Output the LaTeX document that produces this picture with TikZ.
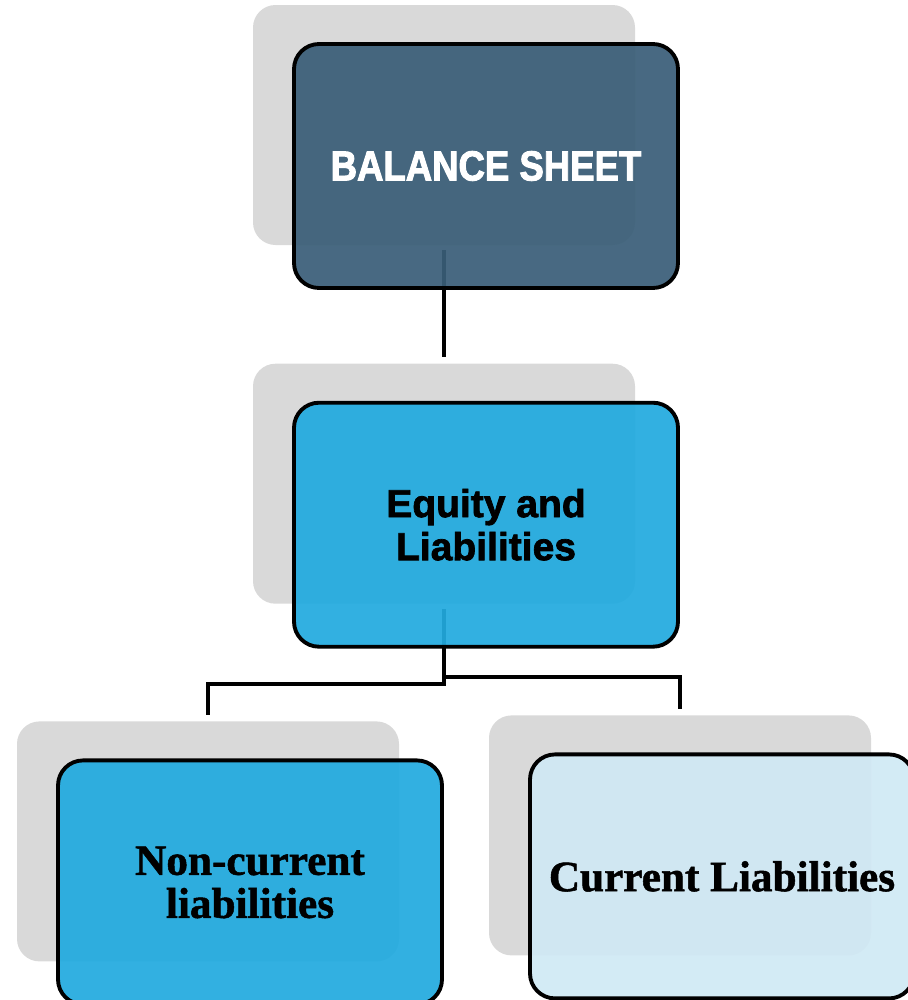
\documentclass[tikz,border=0pt]{standalone}
\usepackage{fontspec}
\setmainfont{Liberation Serif}[FakeBold=1.2]
\newfontfamily\headfont[FakeStretch=0.87, FakeBold=2.2]{Liberation Sans}
\newfontfamily\labelfont[FakeBold=1.8]{Liberation Sans}
\usetikzlibrary{positioning}
\definecolor{sheetblue}{HTML}{3A5E78}
\definecolor{equityblue}{HTML}{22AADF}
\definecolor{paleblue}{HTML}{D0E9F4}
\definecolor{plategray}{HTML}{D9D9D9}

\begin{document}
\begin{tikzpicture}[
    % Grey plate sitting behind each card
    backplate/.style={
        rectangle, rounded corners=0.45cm,
        fill=plategray, inner sep=0pt,
        minimum width=7.64cm, minimum height=4.8cm
    },
    % Card drawn over its plate, pushed down and to the right
    card/.style={
        draw=black, line width=2.2pt,
        rectangle, rounded corners=0.5cm,
        minimum width=7.68cm, minimum height=4.88cm,
        align=center, fill opacity=0.93, text opacity=1,
        xshift=0.84cm, yshift=-0.82cm
    },
    % Connector style
    link/.style={draw=black, line width=2.1pt, shorten <=0.1cm, shorten >=0.12cm}
]

\useasboundingbox (0,0) rectangle (18.16,-20);

% Plates
\node[backplate] (sheetBack) at (8.88,-2.5) {};
\node[backplate, below=2.36cm of sheetBack] (equityBack) {};
\node[backplate, below=2.34cm of equityBack, xshift=-4.72cm] (noncurBack) {};
\node[backplate, below=2.22cm of equityBack, xshift=4.72cm] (curBack) {};

% Connectors between the plates
\draw[link] (sheetBack) -- (equityBack);
\draw[link] (equityBack.south) -- ++(0,-1.6) -| (noncurBack.north);
\draw[link] (equityBack.south) -- ++(0,-1.46) -| (curBack.north);

% Cards
\node[card, fill=sheetblue, text=white,
      font=\headfont\bfseries\fontsize{23.9}{26}\selectfont] (sheet) at (sheetBack) {BALANCE SHEET};
\node[card, fill=equityblue,
      font=\labelfont\bfseries\fontsize{22.2}{24.5}\selectfont] (equity) at (equityBack) {Equity and\\Liabilities};
\node[card, fill=equityblue,
      font=\bfseries\fontsize{24.6}{24.5}\selectfont] (noncur) at (noncurBack) {Non-current\\liabilities};
\node[card, fill=paleblue,
      font=\bfseries\fontsize{24.6}{24.5}\selectfont] (cur) at (curBack) {Current Liabilities};

\end{tikzpicture}
\end{document}
